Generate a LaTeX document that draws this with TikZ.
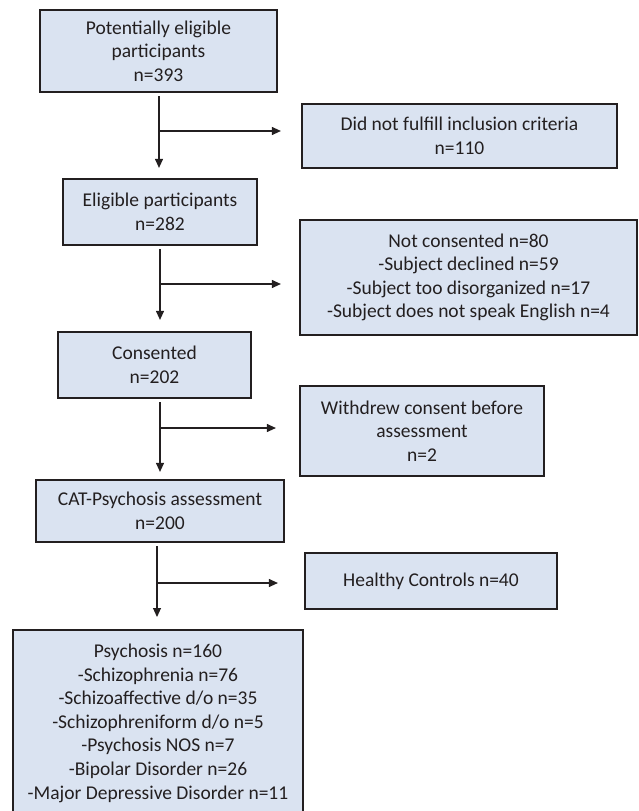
\documentclass[tikz,border=0pt]{standalone}
\usepackage{fontspec}
\setmainfont{Carlito}
\usetikzlibrary{arrows.meta,calc}
\definecolor{boxfill}{HTML}{DAE3F1}
\definecolor{ink}{HTML}{231F20}
\begin{document}
\begin{tikzpicture}[x=1pt,y=-1pt,
  box/.style={draw=ink, line width=2.2pt, fill=boxfill, text=ink, align=center,
    inner sep=0pt, font=\fontsize{19.5}{23.6}\selectfont},
  conn/.style={draw=ink, line width=1.1pt, -{Triangle[length=9pt,width=8pt]}}]
\useasboundingbox (0,0) rectangle (638,811);
\clip (0,0) rectangle (638,811);
% main column
\node[box, minimum width=237pt, minimum height=82pt] (b1) at (158.5,51) {Potentially eligible\\participants\\n=393};
\node[box, minimum width=194pt, minimum height=66pt] (b2) at (160,212) {Eligible participants\\n=282};
\node[box, minimum width=193pt, minimum height=66pt] (b3) at (154.5,365) {Consented\\n=202};
\node[box, minimum width=248pt, minimum height=62pt] (b4) at (160,511) {CAT-Psychosis assessment\\n=200};
\node[box, minimum width=290pt, minimum height=186pt, anchor=north] (b5) at (158,629) {Psychosis n=160\\-Schizophrenia n=76\\-Schizoaffective d/o n=35\\-Schizophreniform d/o n=5\\-Psychosis NOS n=7\\-Bipolar Disorder n=26\\-Major Depressive Disorder n=11};
% side boxes
\node[box, minimum width=315pt, minimum height=64pt] (r1) at (459.5,136) {Did not fulfill inclusion criteria\\n=110};
\node[box, minimum width=337pt, minimum height=115pt] (r2) at (468.5,277.5) {Not consented n=80\\-Subject declined n=59\\-Subject too disorganized n=17\\-Subject does not speak English n=4};
\node[box, minimum width=244pt, minimum height=90pt] (r3) at (422,431) {Withdrew consent before\\assessment\\n=2};
\node[box, minimum width=252pt, minimum height=56pt] (r4) at (431,581) {Healthy Controls n=40};
% junctions
\coordinate (j1) at (159,131);
\coordinate (j2) at (160,284);
\coordinate (j3) at (160,428);
\coordinate (j4) at (157,583);
% vertical connectors
\draw[conn, shorten <=3pt, shorten >=10pt] (j1 |- b1.south) -- (j1 |- b2.north);
\draw[conn, shorten <=3pt, shorten >=11pt] (j2 |- b2.south) -- (j2 |- b3.north);
\draw[conn, shorten <=3pt, shorten >=7pt] (j3 |- b3.south) -- (j3 |- b4.north);
\draw[conn, shorten <=3pt, shorten >=12pt] (j4 |- b4.south) -- (j4 |- b5.north);
% branch connectors
\draw[conn, shorten >=20pt] (j1) -- (j1 -| r1.west);
\draw[conn, shorten >=18pt] (j2) -- (j2 -| r2.west);
\draw[conn, shorten >=23pt] (j3) -- (j3 -| r3.west);
\draw[conn, shorten >=26pt] (j4) -- (j4 -| r4.west);
\end{tikzpicture}
\end{document}
